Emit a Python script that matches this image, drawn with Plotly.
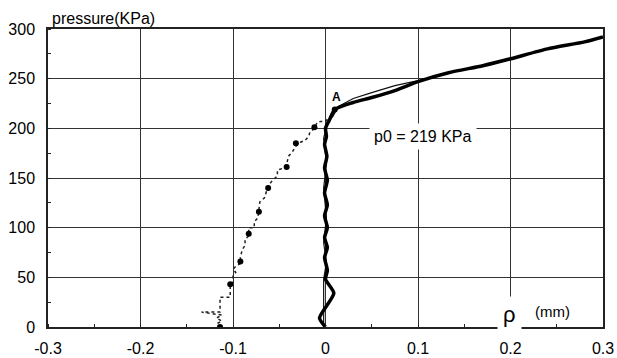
import plotly.graph_objects as go

# Thick loading curve (displacement rho in mm, pressure in KPa)
main_x = [0.0, -0.0065, 0.009, 0.0, 0.002, -0.001, 0.002, -0.001, 0.002, -0.001, 0.002, -0.001,
          0.002, -0.001, 0.0015, -0.001, 0.001, 0.0, 0.004, 0.01, 0.03, 0.05, 0.075, 0.1,
          0.133, 0.17, 0.2, 0.24, 0.28, 0.3]
main_p = [0, 9, 34, 48, 57, 70, 80, 90, 100, 112, 123, 135,
          148, 160, 172, 184, 192, 200, 208, 219, 226, 231, 238, 247,
          256, 263, 270, 280, 287, 292]

# Thin companion curve
thin_x = [-0.002, -0.002, 0.001, -0.002, 0.001, -0.002, 0.001, -0.002, 0.002, 0.008,
          0.014, 0.03, 0.05, 0.075, 0.1]
thin_p = [0, 48, 65, 85, 110, 140, 165, 190, 205, 212,
          222, 230, 236, 243, 248]

# Dotted stepped curve
step_x = [-0.114, -0.118, -0.112, -0.118, -0.112, -0.134, -0.114, -0.114, -0.103, -0.103,
          -0.1, -0.1, -0.097, -0.1, -0.097, -0.092, -0.092, -0.09, -0.087, -0.087,
          -0.083, -0.083, -0.077, -0.077, -0.073, -0.072, -0.071, -0.066, -0.064, -0.062,
          -0.057, -0.052, -0.052, -0.045, -0.042, -0.04, -0.036, -0.032, -0.027, -0.022,
          -0.018, -0.017, -0.012, -0.009, -0.005, 0.0, 0.005]
step_p = [0, 3, 6, 9, 12, 15, 15, 30, 30, 43,
          45, 52, 55, 58, 61, 64, 70, 78, 82, 88,
          92, 100, 100, 106, 110, 120, 126, 130, 136, 142,
          148, 152, 158, 160, 164, 172, 176, 182, 186, 188,
          192, 196, 200, 206, 207, 207, 212]

# Marker points
mk_x = [-0.114, -0.103, -0.092, -0.083, -0.072, -0.062, -0.042, -0.032, -0.012, 0.01]
mk_p = [0, 43, 66, 94, 116, 140, 161, 185, 201, 219]

x_ticks = [-0.3, -0.2, -0.1, 0, 0.1, 0.2, 0.3]
x_tick_labels = ["-0.3", "-0.2", "-0.1", "0", "0.1", "0.2", "0.3"]
y_ticks = [0, 50, 100, 150, 200, 250, 300]

fig = go.Figure()
fig.add_trace(go.Scatter(x=step_x, y=step_p, mode="lines",
                         line=dict(color="#222", width=1.5, dash="dot")))
fig.add_trace(go.Scatter(x=thin_x, y=thin_p, mode="lines",
                         line=dict(color="#111", width=1.2)))
fig.add_trace(go.Scatter(x=main_x, y=main_p, mode="lines",
                         line=dict(color="black", width=3.5, shape="spline", smoothing=0.6)))
fig.add_trace(go.Scatter(x=mk_x, y=mk_p, mode="markers",
                         marker=dict(color="black", size=6)))

font_fam = "Arial, Liberation Sans, sans-serif"
fig.update_layout(
    width=617, height=358,
    margin=dict(l=48, r=14, t=29, b=31),
    paper_bgcolor="white", plot_bgcolor="white",
    showlegend=False,
    font=dict(family=font_fam, color="black", size=16),
    xaxis=dict(range=[-0.3, 0.3], tickvals=x_ticks, ticktext=x_tick_labels,
               automargin=False,
               showgrid=True, gridcolor="#333", gridwidth=1.2,
               showline=True, linecolor="#222", linewidth=1.5, mirror=True,
               zeroline=False, ticks="", ticklabelstandoff=6,
               tickfont=dict(size=16),
               minor=dict(ticks="inside", ticklen=3, dtick=0.05, tick0=-0.3,
                          tickcolor="#222", showgrid=False)),
    yaxis=dict(range=[0, 300], tickvals=y_ticks, automargin=False,
               showgrid=True, gridcolor="#333", gridwidth=1.2,
               showline=True, linecolor="#222", linewidth=1.5, mirror=True,
               zeroline=False, ticks="", ticklabelstandoff=8,
               tickfont=dict(size=16),
               minor=dict(ticks="inside", ticklen=3, dtick=25, tick0=0,
                          tickcolor="#222", showgrid=False)),
    annotations=[
        dict(text="pressure(KPa)", xref="paper", yref="paper", x=0.003, y=1,
             xanchor="left", yanchor="bottom", yshift=0, showarrow=False,
             font=dict(size=16)),
        dict(text="p0 = 219 KPa", xref="x", yref="y", x=0.105, y=192,
             showarrow=False, bgcolor="white", borderpad=4, font=dict(size=16)),
        dict(text="<b>A</b>", xref="x", yref="y", x=0.012, y=232,
             showarrow=False, font=dict(size=12)),
        dict(text="ρ", xref="x", yref="y", x=0.199, y=13,
             showarrow=False, bgcolor="white", borderpad=5, font=dict(size=22)),
        dict(text="(mm)", xref="x", yref="y", x=0.245, y=16,
             showarrow=False, font=dict(size=15)),
    ],
)

fig.write_html("out.html")
